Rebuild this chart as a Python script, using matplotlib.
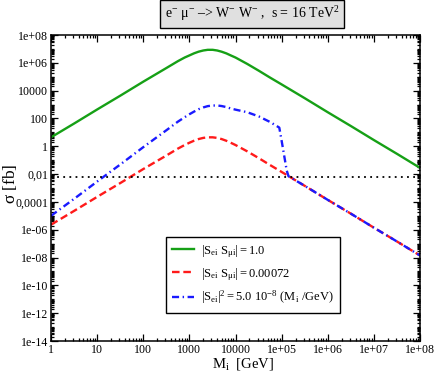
import matplotlib
matplotlib.use("Agg")
import matplotlib.pyplot as plt
from matplotlib.ticker import FixedLocator, FixedFormatter, NullFormatter
from matplotlib.lines import Line2D

plt.rcParams['font.family'] = ['Liberation Serif', 'DejaVu Serif']
plt.rcParams['mathtext.fontset'] = 'custom'
plt.rcParams['mathtext.rm'] = 'Liberation Serif'
plt.rcParams['mathtext.it'] = 'Liberation Serif'
plt.rcParams['mathtext.bf'] = 'Liberation Serif'

# ---- data ----
mass = [1, 3.2, 10, 32, 100, 320, 560, 790, 1000, 1260, 1580, 2000, 2500,
        3200, 4000, 5000, 6300, 7900, 1e4, 1.8e4, 3.2e4, 5.6e4, 1e5, 3.2e5,
        1e6, 3.2e6, 1e7, 3.2e7, 1e8]
sigma_green = [4.4, 44, 440, 4400, 4.4e4, 4.3e5, 1.3e6, 2.4e6, 3.4e6, 4.8e6,
               6.3e6, 7.7e6, 8.6e6, 8.6e6, 7.7e6, 6.3e6, 4.8e6, 3.4e6, 2.4e6,
               8.3e5, 2.7e5, 8.7e4, 2.8e4, 2.8e3, 280, 28, 2.8, 0.28, 0.028]
sigma_red = [2.3e-6, 2.3e-5, 2.3e-4, 2.3e-3, 0.023, 0.22, 0.67, 1.23, 1.79,
             2.5, 3.3, 4.0, 4.4, 4.4, 4.0, 3.3, 2.5, 1.79, 1.23, 0.43, 0.14,
             0.045, 0.0143, 1.4e-3, 1.4e-4, 1.4e-5, 1.4e-6, 1.4e-7, 1.4e-8]
mass_blue = [1, 3.2, 10, 32, 100, 320, 560, 790, 1000, 1260, 1580, 2000,
             2500, 3200, 4000, 5000, 6300, 7900, 1e4, 1.8e4, 3.2e4, 5.6e4,
             8.9e4, 1.0e5, 1.29e5, 1.41e5, 3.2e5, 1e6, 3.2e6, 1e7, 3.2e7, 1e8]
sigma_blue = [1e-5, 1.7e-4, 2.9e-3, 0.05, 0.86, 14.5, 58, 123, 200, 310, 460,
              620, 770, 850, 860, 780, 660, 520, 430, 280, 140, 56, 22, 2.5,
              0.018, 0.007, 1.4e-3, 1.4e-4, 1.4e-5, 1.4e-6, 1.4e-7, 1.4e-8]
sigma_ref = 0.006

labels = [r'$|\mathrm{S_{ei}\ S_{\mu i}}| = 1.0$',
          r'$|\mathrm{S_{ei}\ S_{\mu i}}| = 0.00072$',
          r'$|\mathrm{S_{ei}}|^{2} = 5.0\ 10^{-8}\ \mathrm{(M_{i}\ /GeV)}$']

yticks = [1e-14, 1e-12, 1e-10, 1e-08, 1e-06, 1e-04, 1e-02, 1, 100, 1e4, 1e6, 1e8]
ytick_labels = ['1e-14', '1e-12', '1e-10', '1e-08', '1e-06', '0,0001', '0,01',
                '1', '100', '10000', '1e+06', '1e+08']
xticks = [1, 10, 100, 1000, 1e4, 1e5, 1e6, 1e7, 1e8]
xtick_labels = ['1', '10', '100', '1000', '10000', '1e+05', '1e+06', '1e+07', '1e+08']

# ---- figure ----
fig = plt.figure(figsize=(4.36, 3.82), dpi=100)
ax = fig.add_axes([51/436, 1-341/382, 369/436, 306/382])

green = '#16a016'
red = '#ff1a1a'
blue = '#1a1aff'
red_ls = (0, (3.2, 1.6))
blue_ls = (0, (3.0, 1.5, 0.6, 1.5))
ax.plot(mass, sigma_green, color=green, lw=1.7)
ax.plot(mass, sigma_red, color=red, lw=1.7, linestyle=red_ls)
ax.plot(mass_blue, sigma_blue, color=blue, lw=1.7, linestyle=blue_ls)
ax.axhline(sigma_ref, color='black', lw=1.3, linestyle=(0, (1, 2.4)))

ax.set_xscale('log')
ax.set_yscale('log')
ax.set_xlim(1, 1e8)
ax.set_ylim(1e-14, 1e8)

ax.yaxis.set_major_locator(FixedLocator(yticks))
ax.yaxis.set_major_formatter(FixedFormatter(ytick_labels))
yminor = [m * 10.0**k for k in range(-14, 8) for m in range(1, 10)]
ax.yaxis.set_minor_locator(FixedLocator(yminor))
ax.yaxis.set_minor_formatter(NullFormatter())

ax.xaxis.set_major_locator(FixedLocator(xticks))
ax.xaxis.set_major_formatter(FixedFormatter(xtick_labels))
xminor = [m * 10.0**k for k in range(0, 8) for m in range(2, 10)]
ax.xaxis.set_minor_locator(FixedLocator(xminor))
ax.xaxis.set_minor_formatter(NullFormatter())

ax.tick_params(which='both', direction='in', top=True, right=True,
               width=0.9)
ax.tick_params(axis='y', labelsize=8.6, pad=2)
ax.tick_params(axis='x', labelsize=8.6, pad=2)
ax.tick_params(which='major', length=5)
ax.tick_params(which='minor', length=2.5)
for s in ax.spines.values():
    s.set_linewidth(1.1)

fig.text(10/436, 1-184/382, r'$\sigma$ [fb]', rotation=90, ha='center',
         va='center', fontsize=12.5)
fig.text(243/436, 1-364/382, r'M$_{\mathrm{i}}$  [GeV]', ha='center',
         va='center', fontsize=10.5)

fig.text(252/436, 1-14/382,
         r'e$^{-}$ $\mathrm{\mu}^{-}$ –> W$^{-}$ W$^{-}$ ,  s = 16 TeV$^{2}$',
         ha='center', va='center', fontsize=10,
         bbox=dict(boxstyle='square,pad=0.35', facecolor='#e0e0e0',
                   edgecolor='black', linewidth=1.0))

handles = [Line2D([], [], color=green, lw=1.7),
           Line2D([], [], color=red, lw=1.7, linestyle=red_ls),
           Line2D([], [], color=blue, lw=1.7, linestyle=blue_ls)]
leg = ax.legend(handles, labels, loc='upper left',
                bbox_to_anchor=(0.312, 0.341), fontsize=9,
                frameon=True, fancybox=False, edgecolor='black',
                framealpha=1, handlelength=1.7, borderpad=0.5,
                labelspacing=0.5, handletextpad=0.6, borderaxespad=0)
leg.get_frame().set_linewidth(1.0)

fig.savefig('out.png', dpi=100)
